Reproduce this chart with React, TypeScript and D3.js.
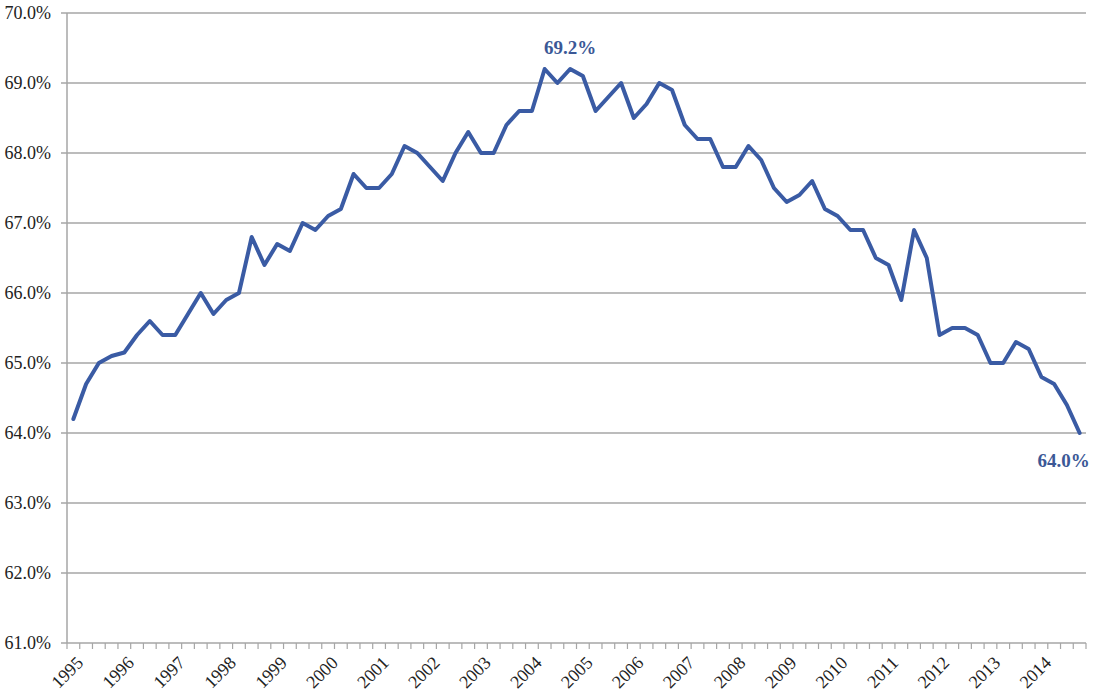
import React from "react";
import * as d3 from "d3";

const years = [
  "1995", "1996", "1997", "1998", "1999", "2000", "2001", "2002", "2003", "2004",
  "2005", "2006", "2007", "2008", "2009", "2010", "2011", "2012", "2013", "2014",
];

// quarterly values, 1995Q1 .. 2014Q4
const rates = [
  64.2, 64.7, 65.0, 65.1,
  65.15, 65.4, 65.6, 65.4,
  65.4, 65.7, 66.0, 65.7,
  65.9, 66.0, 66.8, 66.4,
  66.7, 66.6, 67.0, 66.9,
  67.1, 67.2, 67.7, 67.5,
  67.5, 67.7, 68.1, 68.0,
  67.8, 67.6, 68.0, 68.3,
  68.0, 68.0, 68.4, 68.6,
  68.6, 69.2, 69.0, 69.2,
  69.1, 68.6, 68.8, 69.0,
  68.5, 68.7, 69.0, 68.9,
  68.4, 68.2, 68.2, 67.8,
  67.8, 68.1, 67.9, 67.5,
  67.3, 67.4, 67.6, 67.2,
  67.1, 66.9, 66.9, 66.5,
  66.4, 65.9, 66.9, 66.5,
  65.4, 65.5, 65.5, 65.4,
  65.0, 65.0, 65.3, 65.2,
  64.8, 64.7, 64.4, 64.0,
];

const yTicks = [61, 62, 63, 64, 65, 66, 67, 68, 69, 70];

// labelled points: index into rates, placement
const callouts = [
  { index: 39, dx: 0, dy: -15 },
  { index: 79, dx: -16, dy: 34 },
];

const W = 1094;
const H = 693;
const left = 67;
const right = 1086;
const top = 13;
const bottom = 643;

const lineColor = "#3a5ba4";
const labelColor = "#3b5896";
const gridColor = "#a6a6a6";
const font = "'Liberation Serif', 'Times New Roman', serif";

export default function App() {
  const idx = d3.range(rates.length);
  const x = d3.scaleBand<number>().domain(idx).range([left, right]);
  const y = d3.scaleLinear().domain([61, 70]).range([bottom, top]);
  const cx = (i: number) => (x(i) as number) + x.bandwidth() / 2;

  const line = d3
    .line<number>()
    .x((_, i) => cx(i))
    .y((d) => y(d));

  const tickXs = d3.range(rates.length + 1).map((i) => left + i * x.step());

  return (
    <svg
      width={W}
      height={H}
      style={{ position: "fixed", left: 0, top: 0, background: "#fff" }}
    >
      {yTicks.map((t) => (
        <g key={t}>
          <line
            x1={left - 6}
            x2={right}
            y1={y(t)}
            y2={y(t)}
            stroke={gridColor}
            strokeWidth={1.5}
          />
          <text
            x={51}
            y={y(t)}
            dy="0.35em"
            textAnchor="end"
            fontFamily={font}
            fontSize={18}
            fill="#222"
          >
            {t.toFixed(1)}%
          </text>
        </g>
      ))}
      <line x1={left} x2={left} y1={top} y2={bottom} stroke={gridColor} strokeWidth={1.5} />
      {tickXs.map((tx, i) => (
        <line
          key={i}
          x1={tx}
          x2={tx}
          y1={bottom}
          y2={bottom + 6}
          stroke={gridColor}
          strokeWidth={1.2}
        />
      ))}
      {years.map((yr, i) => {
        const px = cx(i * 4) + 2;
        const py = bottom + 12;
        return (
          <text
            key={yr}
            transform={`translate(${px},${py}) rotate(-45)`}
            textAnchor="end"
            dy="0.7em"
            fontFamily={font}
            fontSize={18}
            fill="#222"
          >
            {yr}
          </text>
        );
      })}
      <path
        d={line(rates) ?? ""}
        fill="none"
        stroke={lineColor}
        strokeWidth={4}
        strokeLinejoin="round"
        strokeLinecap="round"
      />
      {callouts.map((c) => (
        <text
          key={c.index}
          x={cx(c.index) + c.dx}
          y={y(rates[c.index]) + c.dy}
          textAnchor="middle"
          fontFamily={font}
          fontSize={19}
          fontWeight="bold"
          fill={labelColor}
        >
          {rates[c.index].toFixed(1)}%
        </text>
      ))}
    </svg>
  );
}
